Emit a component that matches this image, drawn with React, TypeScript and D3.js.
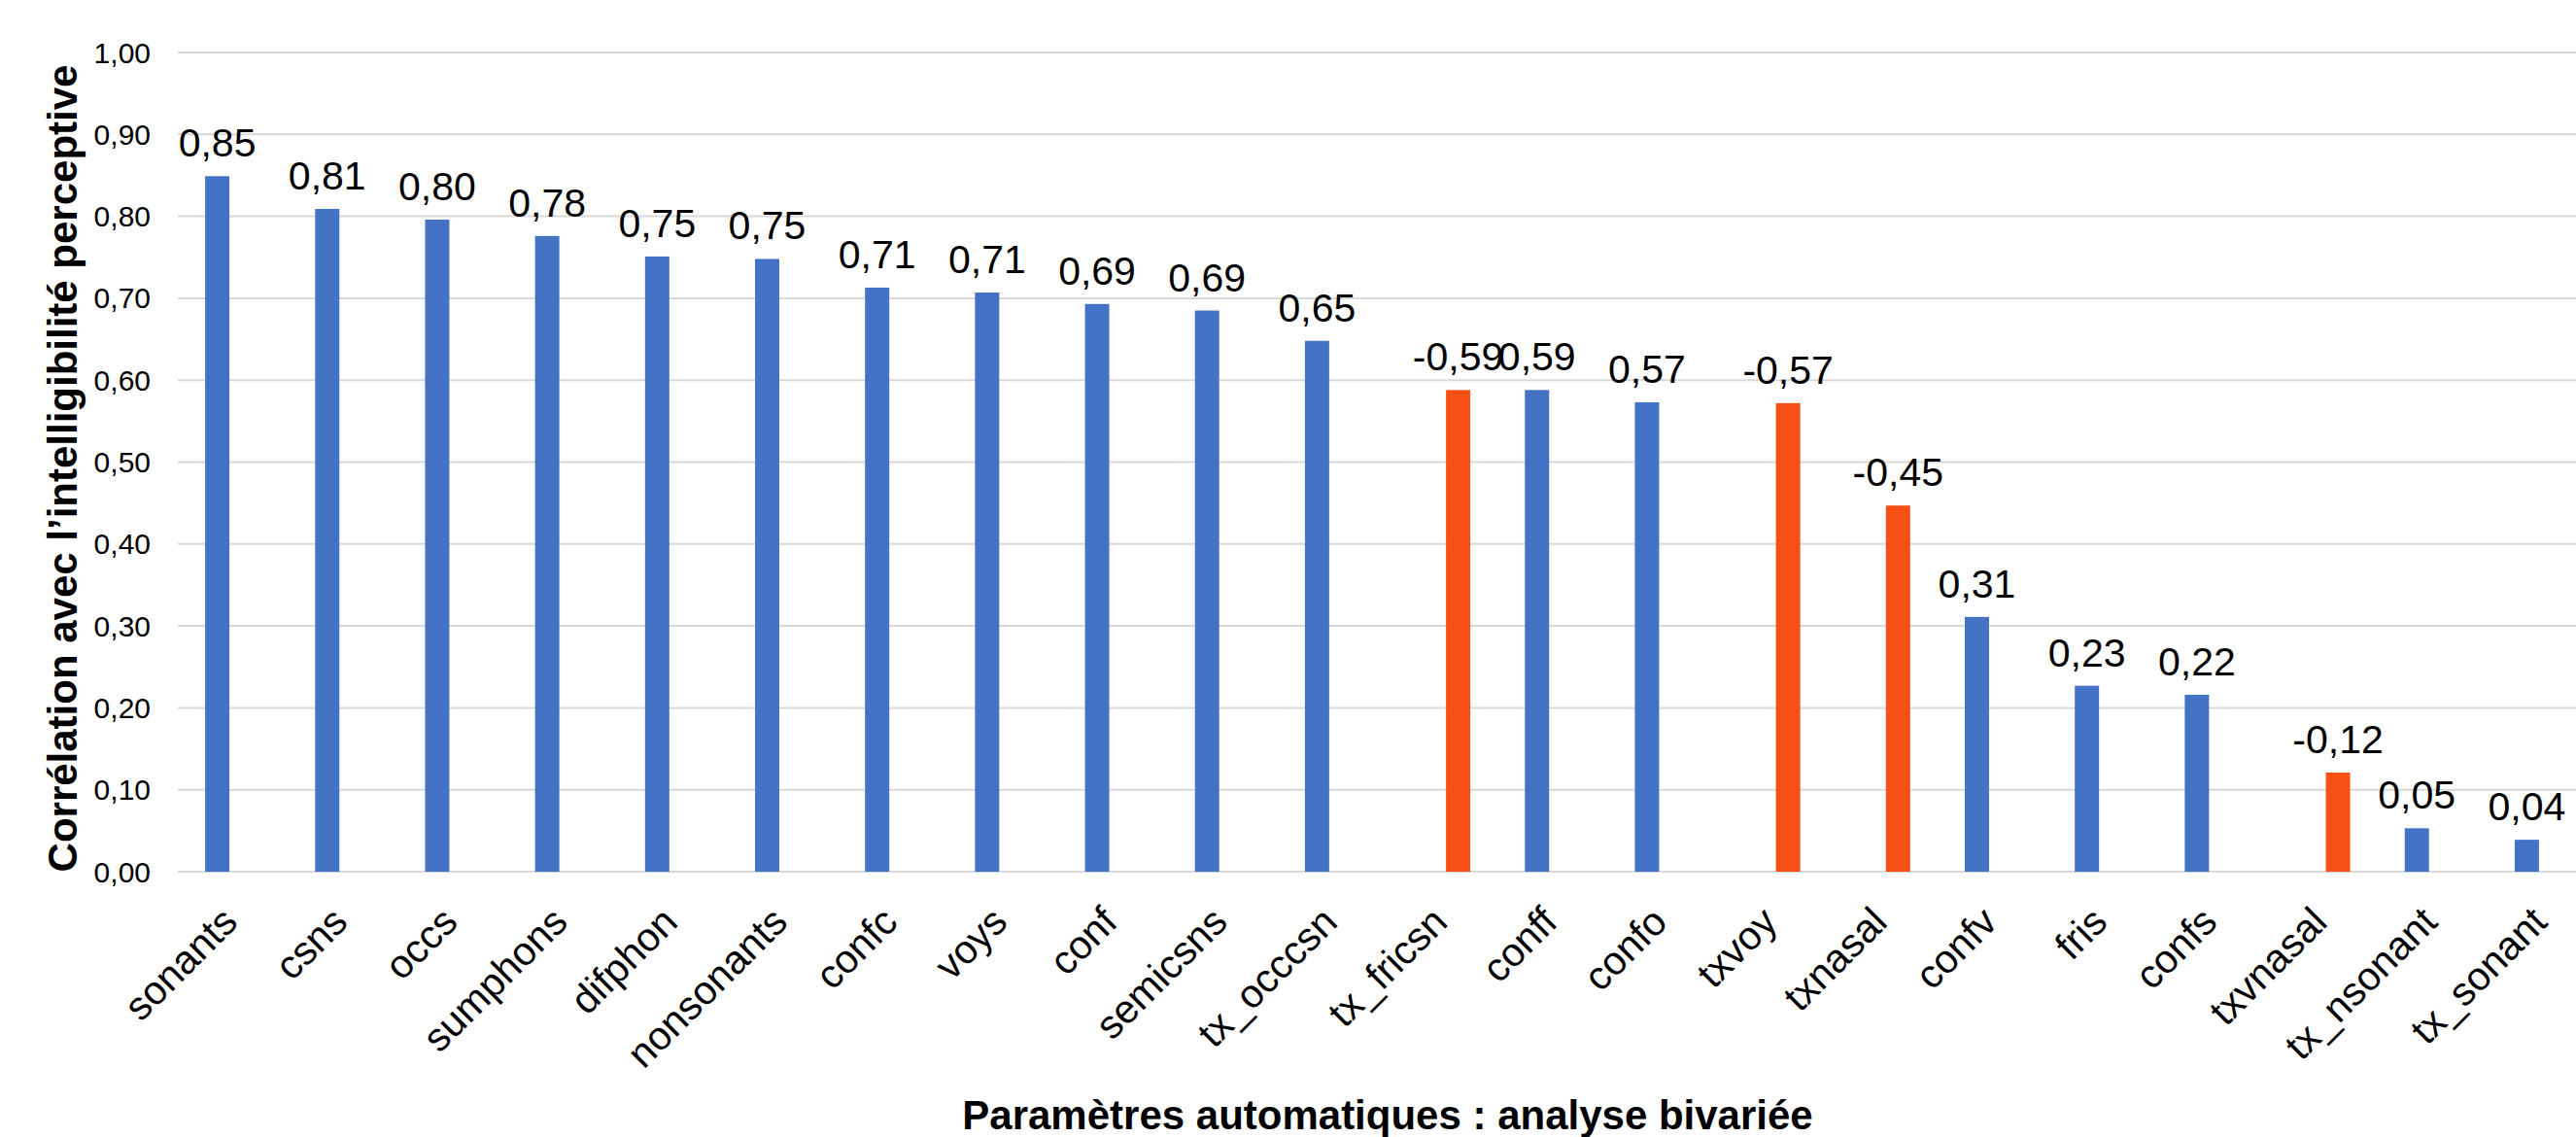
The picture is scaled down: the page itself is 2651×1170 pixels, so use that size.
import * as d3 from "d3";
import React, { useEffect, useRef } from "react";

// parameter names, in the order of the figure
const categories = [
  "sonants", "csns", "occs", "sumphons", "difphon", "nonsonants", "confc",
  "voys", "conf", "semicsns", "tx_occcsn", "tx_fricsn", "conff", "confo",
  "txvoy", "txnasal", "confv", "fris", "confs", "txvnasal", "tx_nsonant", "tx_sonant",
];

// signed correlation with perceptive intelligibility
const correlations = [
  0.849, 0.809, 0.796, 0.776, 0.751, 0.748, 0.713,
  0.707, 0.693, 0.685, 0.648, -0.588, 0.588, 0.573,
  -0.572, -0.447, 0.311, 0.227, 0.216, -0.121, 0.053, 0.039,
];

// the two series of the original sheet: positive / negative correlations
const seriesKeys = ["pos", "neg"];

const yTicks = [0, 0.1, 0.2, 0.3, 0.4, 0.5, 0.6, 0.7, 0.8, 0.9, 1.0];

const yTitle = "Corrélation avec l’intelligibilité perceptive";
const xTitle = "Paramètres automatiques : analyse bivariée";

export default function App() {
  const ref = useRef<SVGSVGElement>(null);

  useEffect(() => {
    const width = 2651,
      height = 1170;
    const font = "'Liberation Sans', Arial, Helvetica, sans-serif";

    const svg = d3.select(ref.current);
    svg.selectAll("*").remove();
    svg.attr("width", width).attr("height", height);

    svg.append("rect").attr("width", width).attr("height", height).attr("fill", "#fff");

    const locale = d3.formatLocale({ decimal: ",", thousands: " ", grouping: [3], currency: ["", "€"] });
    const fmt = locale.format(".2f");

    // plot runs a little past the right border (cropped as in the source)
    const x = d3.scaleBand().domain(categories).range([183, 2673]).padding(0);
    const bw = x.bandwidth();
    const xs = d3.scaleBand()
      .domain(seriesKeys)
      .range([bw / 2 - 32, bw / 2 + 32])
      .paddingInner(0.22)
      .paddingOuter(0.11);

    const y = d3.scaleLinear().domain([0, 1]).range([897, 54]);

    // gridlines + y labels
    const grid = svg.append("g");
    grid.selectAll("line")
      .data(yTicks)
      .join("line")
      .attr("x1", 183)
      .attr("x2", width)
      .attr("y1", (d) => y(d))
      .attr("y2", (d) => y(d))
      .attr("stroke", "#d9d9d9")
      .attr("stroke-width", 2);

    grid.selectAll("text")
      .data(yTicks)
      .join("text")
      .attr("x", 155)
      .attr("y", (d) => y(d))
      .attr("dy", "0.35em")
      .attr("text-anchor", "end")
      .attr("font-family", font)
      .attr("font-size", 30)
      .attr("fill", "#000")
      .text((d) => fmt(d));

    const data = categories.map((c, i) => ({
      cat: c,
      r: correlations[i],
      key: correlations[i] < 0 ? "neg" : "pos",
    }));

    const barX = (d: any) => (x(d.cat) as number) + (xs(d.key) as number);

    svg.append("g")
      .selectAll("rect")
      .data(data)
      .join("rect")
      .attr("x", (d) => barX(d))
      .attr("width", xs.bandwidth())
      .attr("y", (d) => y(Math.abs(d.r)))
      .attr("height", (d) => y(0) - y(Math.abs(d.r)))
      .attr("fill", (d) => (d.key === "neg" ? "#f65016" : "#4472c4"));

    // data labels
    svg.append("g")
      .selectAll("text")
      .data(data)
      .join("text")
      .attr("x", (d) => barX(d) + xs.bandwidth() / 2)
      .attr("y", (d) => y(Math.abs(d.r)) - 20)
      .attr("text-anchor", "middle")
      .attr("font-family", font)
      .attr("font-size", 41)
      .attr("fill", "#000")
      .text((d) => fmt(d.r).replace("−", "-"));

    // category labels, rotated
    svg.append("g")
      .selectAll("text")
      .data(categories)
      .join("text")
      .attr("transform", (d) => `translate(${(x(d) as number) + bw / 2 + 7}, 951) rotate(-45)`)
      .attr("text-anchor", "end")
      .attr("font-family", font)
      .attr("font-size", 41)
      .attr("fill", "#000")
      .text((d) => d);

    // axis titles
    svg.append("text")
      .attr("transform", `translate(79, 482) rotate(-90)`)
      .attr("text-anchor", "middle")
      .attr("font-family", font)
      .attr("font-weight", "bold")
      .attr("font-size", 42)
      .attr("fill", "#000")
      .text(yTitle);

    svg.append("text")
      .attr("x", 1428)
      .attr("y", 1162)
      .attr("text-anchor", "middle")
      .attr("font-family", font)
      .attr("font-weight", "bold")
      .attr("font-size", 42)
      .attr("fill", "#000")
      .text(xTitle);
  }, []);

  return (
    <svg ref={ref} style={{ position: "absolute", left: 0, top: 0, display: "block" }}></svg>
  );
}
